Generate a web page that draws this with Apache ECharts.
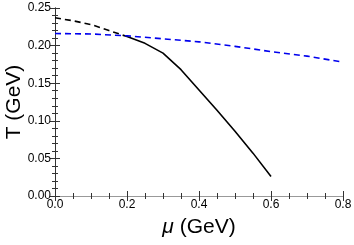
<!DOCTYPE html>
<html><head><meta charset="utf-8">
<script src="https://cdn.jsdelivr.net/npm/echarts@6/dist/echarts.min.js"></script>
<style>html,body{margin:0;padding:0;background:#fff}#c{width:354px;height:245px}</style>
</head><body><div id="c"></div>
<script>
const blackDashedMu = [0, 0.05, 0.1, 0.15, 0.2];
const blackDashedT  = [0.237, 0.233, 0.228, 0.220, 0.212];
const blackSolidMu = [0.2, 0.25, 0.3, 0.35, 0.4, 0.45, 0.5, 0.55, 0.6];
const blackSolidT  = [0.212, 0.203, 0.190, 0.168, 0.141, 0.114, 0.086, 0.057, 0.026];
const blueMu = [0, 0.1, 0.2, 0.3, 0.4, 0.5, 0.6, 0.7, 0.8];
const blueT  = [0.216, 0.2155, 0.213, 0.209, 0.205, 0.199, 0.192, 0.186, 0.178];
const xTitle = 'μ';
const yTitle = 'T (GeV)';

const zip = (a, b) => a.map((v, i) => [v, b[i]]);
const chart = echarts.init(document.getElementById('c'));
const font = 'Liberation Sans, Arial, sans-serif';
const axisCol = '#333';
const baseX = {
  type: 'value', min: 0, max: 0.8, interval: 0.2,
  axisLine: { show: true, lineStyle: { color: axisCol, width: 1 } },
  axisTick: { show: true, inside: true, length: 5, lineStyle: { color: axisCol } },
  minorTick: { show: true, splitNumber: 4, length: 3, lineStyle: { color: axisCol } },
  splitLine: { show: false }
};
const baseY = {
  type: 'value', min: 0, max: 0.25, interval: 0.05,
  axisLine: { show: true, lineStyle: { color: axisCol, width: 1 } },
  axisTick: { show: true, inside: true, length: 5, lineStyle: { color: axisCol } },
  minorTick: { show: true, splitNumber: 5, length: 3, lineStyle: { color: axisCol } },
  splitLine: { show: false }
};
chart.setOption({
  animation: false,
  grid: { left: 55, right: 11, top: 8, bottom: 49, outerBoundsMode: 'none' },
  xAxis: [
    Object.assign({}, baseX, {
      position: 'bottom',
      axisLabel: { color: '#000', fontSize: 12, fontFamily: font, margin: 3, formatter: v => v.toFixed(1) },
      name: '{i|' + xTitle + '} (GeV)', nameLocation: 'middle', nameGap: 21, nameMoveOverlap: false,
      nameTextStyle: { color: '#000', fontSize: 21, fontFamily: font,
        rich: { i: { fontStyle: 'italic', fontSize: 21, fontFamily: font, color: '#000' } } }
    }),
    Object.assign({}, baseX, { position: 'top', axisLabel: { show: false },
      axisLine: { show: true, lineStyle: { color: '#999', width: 1 } } })
  ],
  yAxis: [
    Object.assign({}, baseY, {
      position: 'left',
      axisLabel: { color: '#000', fontSize: 12, fontFamily: font, margin: 4, formatter: v => v.toFixed(2) },
      name: yTitle, nameLocation: 'middle', nameGap: 30, nameMoveOverlap: false,
      nameTextStyle: { color: '#000', fontSize: 21, fontFamily: font }
    }),
    Object.assign({}, baseY, { position: 'right', axisLabel: { show: false } })
  ],
  series: [
    { type: 'line', data: zip(blackDashedMu, blackDashedT), showSymbol: false, smooth: false,
      lineStyle: { color: '#000', width: 1.6, type: [6, 4] } },
    { type: 'line', data: zip(blackSolidMu, blackSolidT), showSymbol: false, smooth: false,
      lineStyle: { color: '#000', width: 1.6 } },
    { type: 'line', data: zip(blueMu, blueT), showSymbol: false, smooth: false,
      lineStyle: { color: '#0000ee', width: 1.6, type: [6, 4] } }
  ]
});
</script></body></html>
